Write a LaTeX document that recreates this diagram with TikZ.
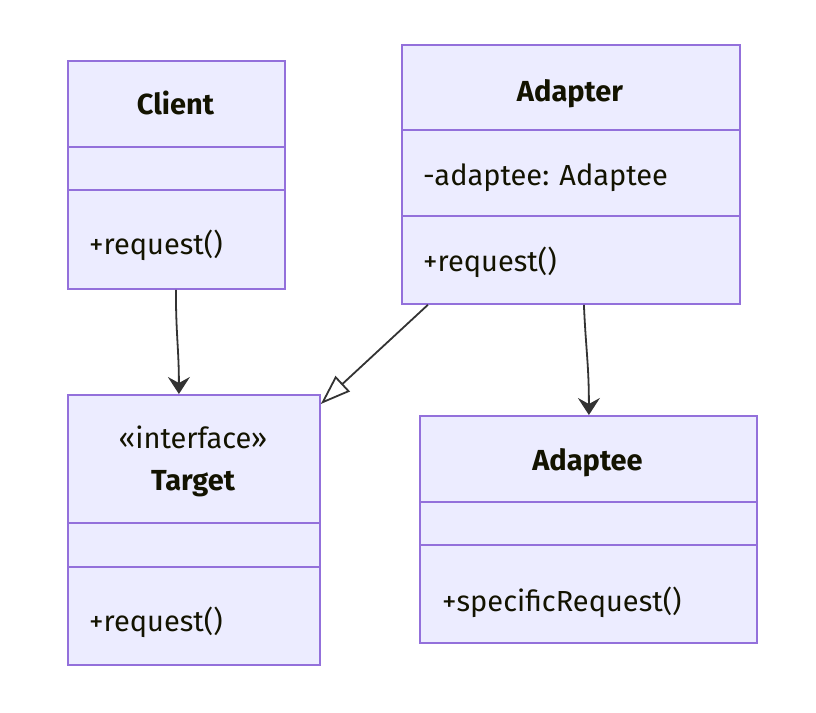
\documentclass[tikz,border=0pt]{standalone}
\usepackage{fontspec}
\setmainfont{Fira Sans}
\usetikzlibrary{arrows.meta}
\definecolor{boxfill}{HTML}{ECECFF}
\definecolor{boxline}{HTML}{9370DB}
\definecolor{ink}{HTML}{131300}
\definecolor{wire}{HTML}{333333}
\begin{document}
\begin{tikzpicture}[x=1pt,y=-1pt,
  classbox/.style={draw=boxline, fill=boxfill, line width=1.8pt, rectangle,
    anchor=north west, inner sep=0pt},
  divider/.style={draw=boxline, line width=1.8pt},
  member/.style={anchor=base west, inner sep=0pt, text=ink, font=\fontsize{29}{33}\selectfont},
  title/.style={anchor=base, inner sep=0pt, text=ink, font=\fontsize{29}{33}\selectfont\bfseries},
  stereo/.style={anchor=base, inner sep=0pt, text=ink, font=\fontsize{29}{33}\selectfont},
  assoc/.style={draw=wire, line width=1.8pt, -{Stealth[length=17pt, width=22pt, inset=6pt]}},
  realize/.style={draw=wire, line width=1.8pt, -{Triangle[open, length=30pt, width=21pt, fill=white]}}]
  \useasboundingbox (0,0) rectangle (816,712);

  % Class boxes
  \node[classbox, minimum width=217pt, minimum height=228pt] (client) at (67,60) {};
  \node[classbox, minimum width=252pt, minimum height=270pt] (target) at (67,394) {};
  \node[classbox, minimum width=338pt, minimum height=259pt] (adapter) at (401,44) {};
  \node[classbox, minimum width=337pt, minimum height=227pt] (adaptee) at (419,415) {};

  % Compartment lines
  \draw[divider] (67,147) -- (284,147);
  \draw[divider] (67,190) -- (284,190);
  \draw[divider] (67,523) -- (319,523);
  \draw[divider] (67,567) -- (319,567);
  \draw[divider] (401,130) -- (739,130);
  \draw[divider] (401,216) -- (739,216);
  \draw[divider] (419,502) -- (756,502);
  \draw[divider] (419,545) -- (756,545);

  % Client
  \node[title] (clientname) at (175.5,114) {Client};
  \node[member] (clientop) at (89,254) {+request()};

  % Target
  \node[stereo] (targetstereo) at (193,448) {«interface»};
  \node[title] (targetname) at (193,490) {Target};
  \node[member] (targetop) at (89,631) {+request()};

  % Adapter
  \node[title] (adaptername) at (570,101) {Adapter};
  \node[member] (adapterattr) at (423,185) {-adaptee: Adaptee};
  \node[member] (adapterop) at (423,271) {+request()};

  % Adaptee
  \node[title] (adapteename) at (587.5,470) {Adaptee};
  \node[member] (adapteeop) at (442,611) {+specificRequest()};

  % Relations
  \draw[assoc] ([xshift=-0.5pt]client.south) .. controls ([xshift=-0.5pt,yshift=-45pt]client.south) and ([xshift=-15pt,yshift=45pt]target.north) .. ([xshift=-15pt]target.north);
  \draw[realize] ([xshift=-143pt]adapter.south) -- ([yshift=-10pt]target.north east);
  \draw[assoc] ([xshift=13pt]adapter.south) .. controls ([xshift=15pt,yshift=-45pt]adapter.south) and ([xshift=0.5pt,yshift=50pt]adaptee.north) .. ([xshift=0.5pt]adaptee.north);
\end{tikzpicture}
\end{document}
